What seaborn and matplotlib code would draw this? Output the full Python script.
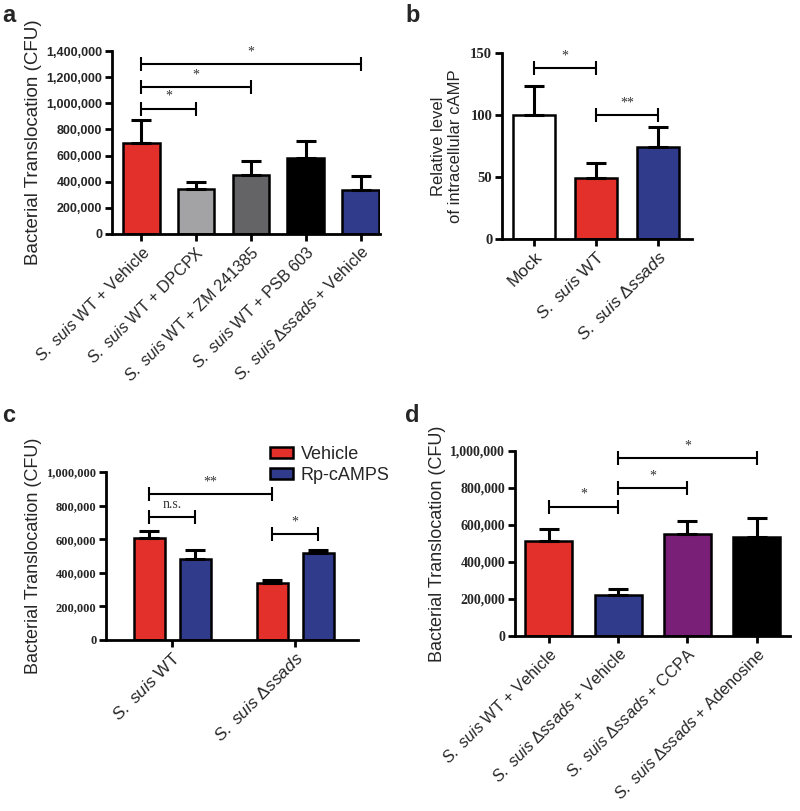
import numpy as np
import pandas as pd
import matplotlib
matplotlib.use("Agg")
import matplotlib.pyplot as plt
from matplotlib.ticker import FuncFormatter
from matplotlib.patches import Patch
import seaborn as sns

sns.set_style("ticks")
plt.rcParams["font.family"] = ["Liberation Sans", "DejaVu Sans"]
plt.rcParams["mathtext.fontset"] = "custom"
plt.rcParams["mathtext.it"] = "Liberation Sans:italic"
plt.rcParams["mathtext.rm"] = "Liberation Sans"
plt.rcParams["mathtext.bf"] = "Liberation Sans:bold"

SS = r"$\it{S.\ suis}$"

# ---------------- data ----------------
# panel a
a_labels = [SS + " WT + Vehicle", SS + " WT + DPCPX", SS + " WT + ZM 241385",
            SS + " WT + PSB 603", SS + r" Δ$\it{ssads}$ + Vehicle"]
a_means = [700000, 345000, 450000, 585000, 340000]
a_errs = [172000, 55000, 105000, 125000, 100000]
a_colors = ["#E3302A", "#A3A3A6", "#646466", "#000000", "#303B8C"]
a_ticks = [0, 200000, 400000, 600000, 800000, 1000000, 1200000, 1400000]
a_sig = [(0, 1, 960000, "*"), (0, 2, 1125000, "*"), (0, 4, 1300000, "*")]

# panel b
b_labels = ["Mock", SS + " WT", SS + r" Δ$\it{ssads}$"]
b_means = [100, 49, 74]
b_errs = [23, 12, 16]
b_colors = ["#FFFFFF", "#E3302A", "#303B8C"]
b_ticks = [0, 50, 100, 150]
b_sig = [(0, 1, 138, "*"), (1, 2, 100, "**")]

# panel c
c_strains = [SS + " WT", SS + r" Δ$\it{ssads}$"]
c_treatments = ["Vehicle", "Rp-cAMPS"]
c_vehicle = [610000, 340000]
c_vehicle_err = [40000, 20000]
c_rp = [480000, 515000]
c_rp_err = [55000, 18000]
c_colors = ["#E3302A", "#303B8C"]
c_ticks = [0, 200000, 400000, 600000, 800000, 1000000]
c_sig = [(0, 2, 870000, "**"), (0, 1, 735000, "n.s."), (2, 3, 630000, "*")]

# panel d
d_labels = [SS + " WT + Vehicle", SS + r" Δ$\it{ssads}$ + Vehicle",
            SS + r" Δ$\it{ssads}$ + CCPA", SS + r" Δ$\it{ssads}$ + Adenosine"]
d_means = [515000, 222000, 550000, 535000]
d_errs = [62000, 32000, 72000, 102000]
d_colors = ["#E3302A", "#303B8C", "#7A1F78", "#000000"]
d_ticks = [0, 200000, 400000, 600000, 800000, 1000000]
d_sig = [(0, 1, 700000, "*"), (1, 2, 800000, "*"), (1, 3, 960000, "*")]

W, H = 800, 811
fig = plt.figure(figsize=(W / 100, H / 100), dpi=100)


def px_axes(l, t, r, b):
    return fig.add_axes([l / W, 1 - b / H, (r - l) / W, (b - t) / H])


comma = FuncFormatter(lambda v, p: f"{v:,.0f}")
SERIF = ["Liberation Serif", "DejaVu Serif"]


def style(ax, ticks, serif, fs, fmt=None):
    sns.despine(ax=ax)
    for s in ("left", "bottom"):
        ax.spines[s].set_linewidth(2.0)
        ax.spines[s].set_color("black")
    ax.set_yticks(ticks)
    ax.set_ylim(ticks[0], ticks[-1])
    if fmt is not None:
        ax.yaxis.set_major_formatter(fmt)
    ax.tick_params(axis="both", width=2.0, length=5, color="black", pad=2)
    for lab in ax.get_yticklabels():
        lab.set_fontweight("bold")
        lab.set_fontsize(fs)
        if serif:
            lab.set_family(SERIF)


def errbars(ax, xs, ys, es):
    ax.errorbar(xs, ys, yerr=[np.zeros(len(es)), es], fmt="none", ecolor="black",
                elinewidth=2.2, capsize=7, capthick=2.2, zorder=1)


def brackets(ax, centers, sig, fs=10):
    for i, j, y, t in sig:
        ax.plot([centers[i], centers[j]], [y, y], color="black", lw=1.5,
                marker="|", markersize=10, mew=1.5, clip_on=False)
        ax.annotate(t, xy=((centers[i] + centers[j]) / 2, y), xytext=(0, 4),
                    textcoords="offset points", ha="center", va="bottom",
                    fontsize=fs, color="#333333", family=SERIF)


def xlabels(ax, labels, fs):
    ax.set_xticks(range(len(labels)))
    ax.set_xticklabels(labels, rotation=45, ha="right", rotation_mode="anchor",
                       fontsize=fs)


def bars(ax, means, colors, width):
    df = pd.DataFrame({"g": range(len(means)), "v": means})
    sns.barplot(data=df, x="g", y="v", hue="g", palette=colors, legend=False,
                width=width, edgecolor="black", linewidth=1.8, errorbar=None,
                saturation=1, ax=ax)


# ---------------- panel a ----------------
ax = px_axes(112, 51, 380, 234)
bars(ax, a_means, a_colors, 0.67)
errbars(ax, range(len(a_means)), a_means, a_errs)
ax.set_xlim(-0.53, 4.35)
style(ax, a_ticks, False, 9, comma)
xlabels(ax, a_labels, 11.7)
ax.set_xlabel("")
ax.set_ylabel("Bacterial Translocation (CFU)", fontsize=13.5, labelpad=3)
brackets(ax, list(range(len(a_means))), a_sig)

# ---------------- panel b ----------------
ax = px_axes(502, 53, 692, 239)
bars(ax, b_means, b_colors, 0.68)
errbars(ax, range(len(b_means)), b_means, b_errs)
ax.set_xlim(-0.52, 2.55)
style(ax, b_ticks, True, 10.5)
xlabels(ax, b_labels, 12.5)
ax.set_xlabel("")
ax.set_ylabel("Relative level\nof intracellular cAMP", fontsize=12, labelpad=5)
brackets(ax, list(range(len(b_means))), b_sig)

# ---------------- panel c ----------------
ax = px_axes(106, 472, 358, 640)
dfc = pd.DataFrame({
    "strain": list(range(len(c_strains))) * 2,
    "treatment": [c_treatments[0]] * len(c_strains) + [c_treatments[1]] * len(c_strains),
    "v": c_vehicle + c_rp,
})
sns.barplot(data=dfc, x="strain", y="v", hue="treatment", palette=c_colors,
            width=0.75, gap=0.33, edgecolor="black", linewidth=1.8,
            errorbar=None, saturation=1, ax=ax)
if ax.get_legend() is not None:
    ax.get_legend().remove()
centers_c = []
for cont, errs in zip(ax.containers, [c_vehicle_err, c_rp_err]):
    xs = [p.get_x() + p.get_width() / 2 for p in cont.patches]
    ys = [p.get_height() for p in cont.patches]
    errbars(ax, xs, ys, errs)
    centers_c.append(xs)
# order: WT vehicle, WT rp, ssads vehicle, ssads rp
cc = [centers_c[0][0], centers_c[1][0], centers_c[0][1], centers_c[1][1]]
ax.set_xlim(-0.54, 1.51)
style(ax, c_ticks, True, 9, comma)
xlabels(ax, c_strains, 12.5)
ax.set_xlabel("")
ax.set_ylabel("Bacterial Translocation (CFU)", fontsize=13, labelpad=3)
brackets(ax, cc, c_sig)
handles = [Patch(facecolor=c, edgecolor="black", linewidth=1.8) for c in c_colors]
ax.legend(handles, c_treatments, loc="center left",
          bbox_to_anchor=(270 / W, 1 - 465 / H), bbox_transform=fig.transFigure,
          frameon=False, fontsize=13, handlelength=1.3, handleheight=0.55,
          handletextpad=0.4, labelspacing=0.25, borderaxespad=0, borderpad=0)

# ---------------- panel d ----------------
ax = px_axes(515, 451, 790, 636)
bars(ax, d_means, d_colors, 0.68)
errbars(ax, range(len(d_means)), d_means, d_errs)
ax.set_xlim(-0.49, 3.48)
style(ax, d_ticks, True, 10, comma)
xlabels(ax, d_labels, 11.7)
ax.set_xlabel("")
ax.set_ylabel("Bacterial Translocation (CFU)", fontsize=13, labelpad=3)
brackets(ax, list(range(len(d_means))), d_sig)

# panel letters
for t, x, y in [("a", 2, 4), ("b", 405, 4), ("c", 2, 404), ("d", 405, 404)]:
    fig.text(x / W, 1 - y / H, t, fontsize=17, fontweight="bold", va="top", ha="left")

fig.savefig("out.png", dpi=100)
